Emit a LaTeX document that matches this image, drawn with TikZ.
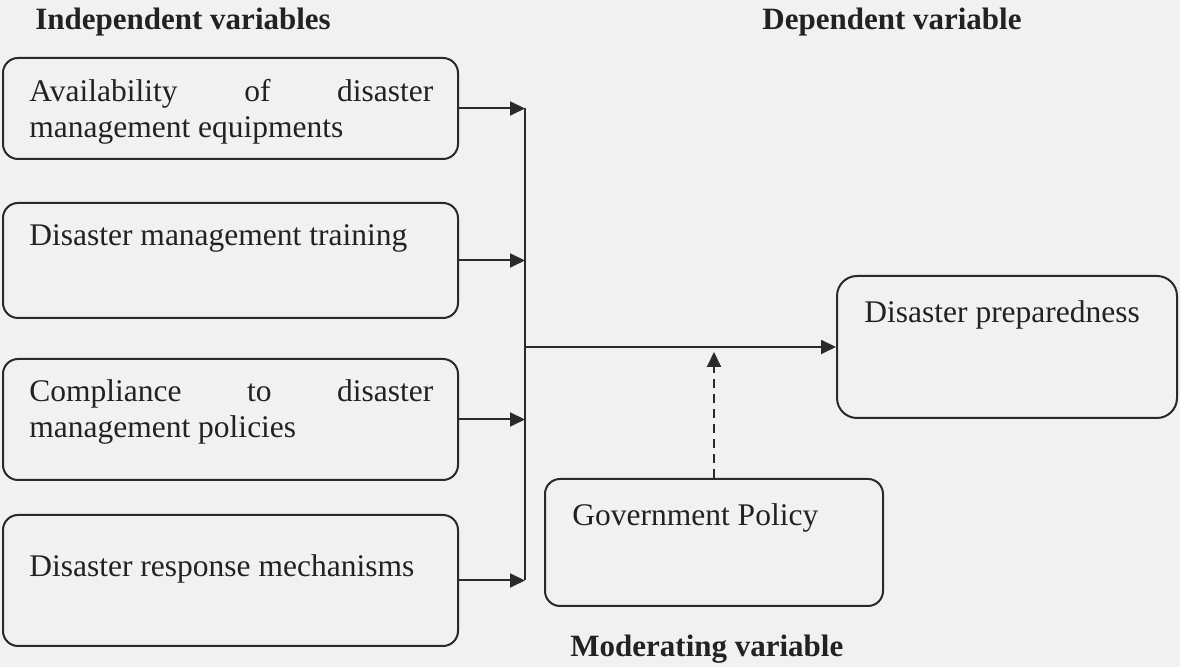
\documentclass[tikz,border=0pt]{standalone}
\usepackage{fontspec}
\setmainfont{Liberation Serif}
\usetikzlibrary{arrows.meta,fit}
\definecolor{bg}{HTML}{F1F1F1}
\definecolor{ink}{HTML}{222222}
\definecolor{lin}{HTML}{2A2A2A}
\begin{document}
\begin{tikzpicture}[x=0.5pt,y=-0.5pt,
  box/.style={draw=lin,line width=1pt,rounded corners=7.5pt,inner sep=0pt},
  bigbox/.style={box,rounded corners=10pt},
  txt/.style={anchor=base west,inner sep=0pt,text=ink,font=\fontsize{15.75pt}{18pt}\selectfont},
  hdr/.style={anchor=base west,inner sep=0pt,text=ink,font=\fontsize{15.5pt}{18pt}\selectfont\bfseries},
  arr/.style={draw=lin,line width=1pt,-{Triangle[length=7.5pt,width=7pt]}},
  dsh/.style={arr,dash pattern=on 4.5pt off 3pt}]
\fill[bg] (0,0) rectangle (1180,667);
\useasboundingbox (0,0) rectangle (1180,667);

% headers
\node[hdr] (hi) at (35,30) {Independent variables};
\node[hdr] (hd) at (762,30) {Dependent variable};
\node[hdr] (hm) at (570,657) {Moderating variable};

% independent variable boxes
\node[box,fit={(3,58) (458,159)}] (b1) {};
\node[box,fit={(3,203) (458,318)}] (b2) {};
\node[box,fit={(3,359) (458,480)}] (b3) {};
\node[box,fit={(3,515) (458,646)}] (b4) {};

\node[txt] (t1a) at (29,102) {\hbox to 202pt{Availability\hfill of\hfill disaster}};
\node[txt] (t1b) at (29,138) {management equipments};
\node[txt] (t2) at (29,246) {Disaster management training};
\node[txt] (t3a) at (29,402) {\hbox to 202pt{Compliance\hfill to\hfill disaster}};
\node[txt] (t3b) at (29,438) {management policies};
\node[txt] (t4) at (29,577) {Disaster response mechanisms};

% dependent and moderating boxes
\node[bigbox,fit={(837,276) (1177,418)}] (dp) {};
\node[txt] (tdp) at (864,323) {Disaster preparedness};
\node[box,fit={(545,479) (883,606)}] (gov) {};
\node[txt] (tgov) at (572,526) {Government Policy};

% connectors
\coordinate (vx) at (525,0);
\draw[arr] (b1.east) -- (b1.east -| vx);
\draw[arr] (b2.east) -- (b2.east -| vx);
\draw[arr] (b3.east) -- (b3.east -| vx);
\draw[arr] (b4.east) -- (b4.east -| vx);
\draw[draw=lin,line width=1pt] (b1.east -| vx) -- (b4.east -| vx);
\draw[arr] (dp.west -| vx) -- (dp.west);
\coordinate (dtip) at (714,352);
\draw[dsh] (gov.north) -- (dtip);
\end{tikzpicture}
\end{document}
